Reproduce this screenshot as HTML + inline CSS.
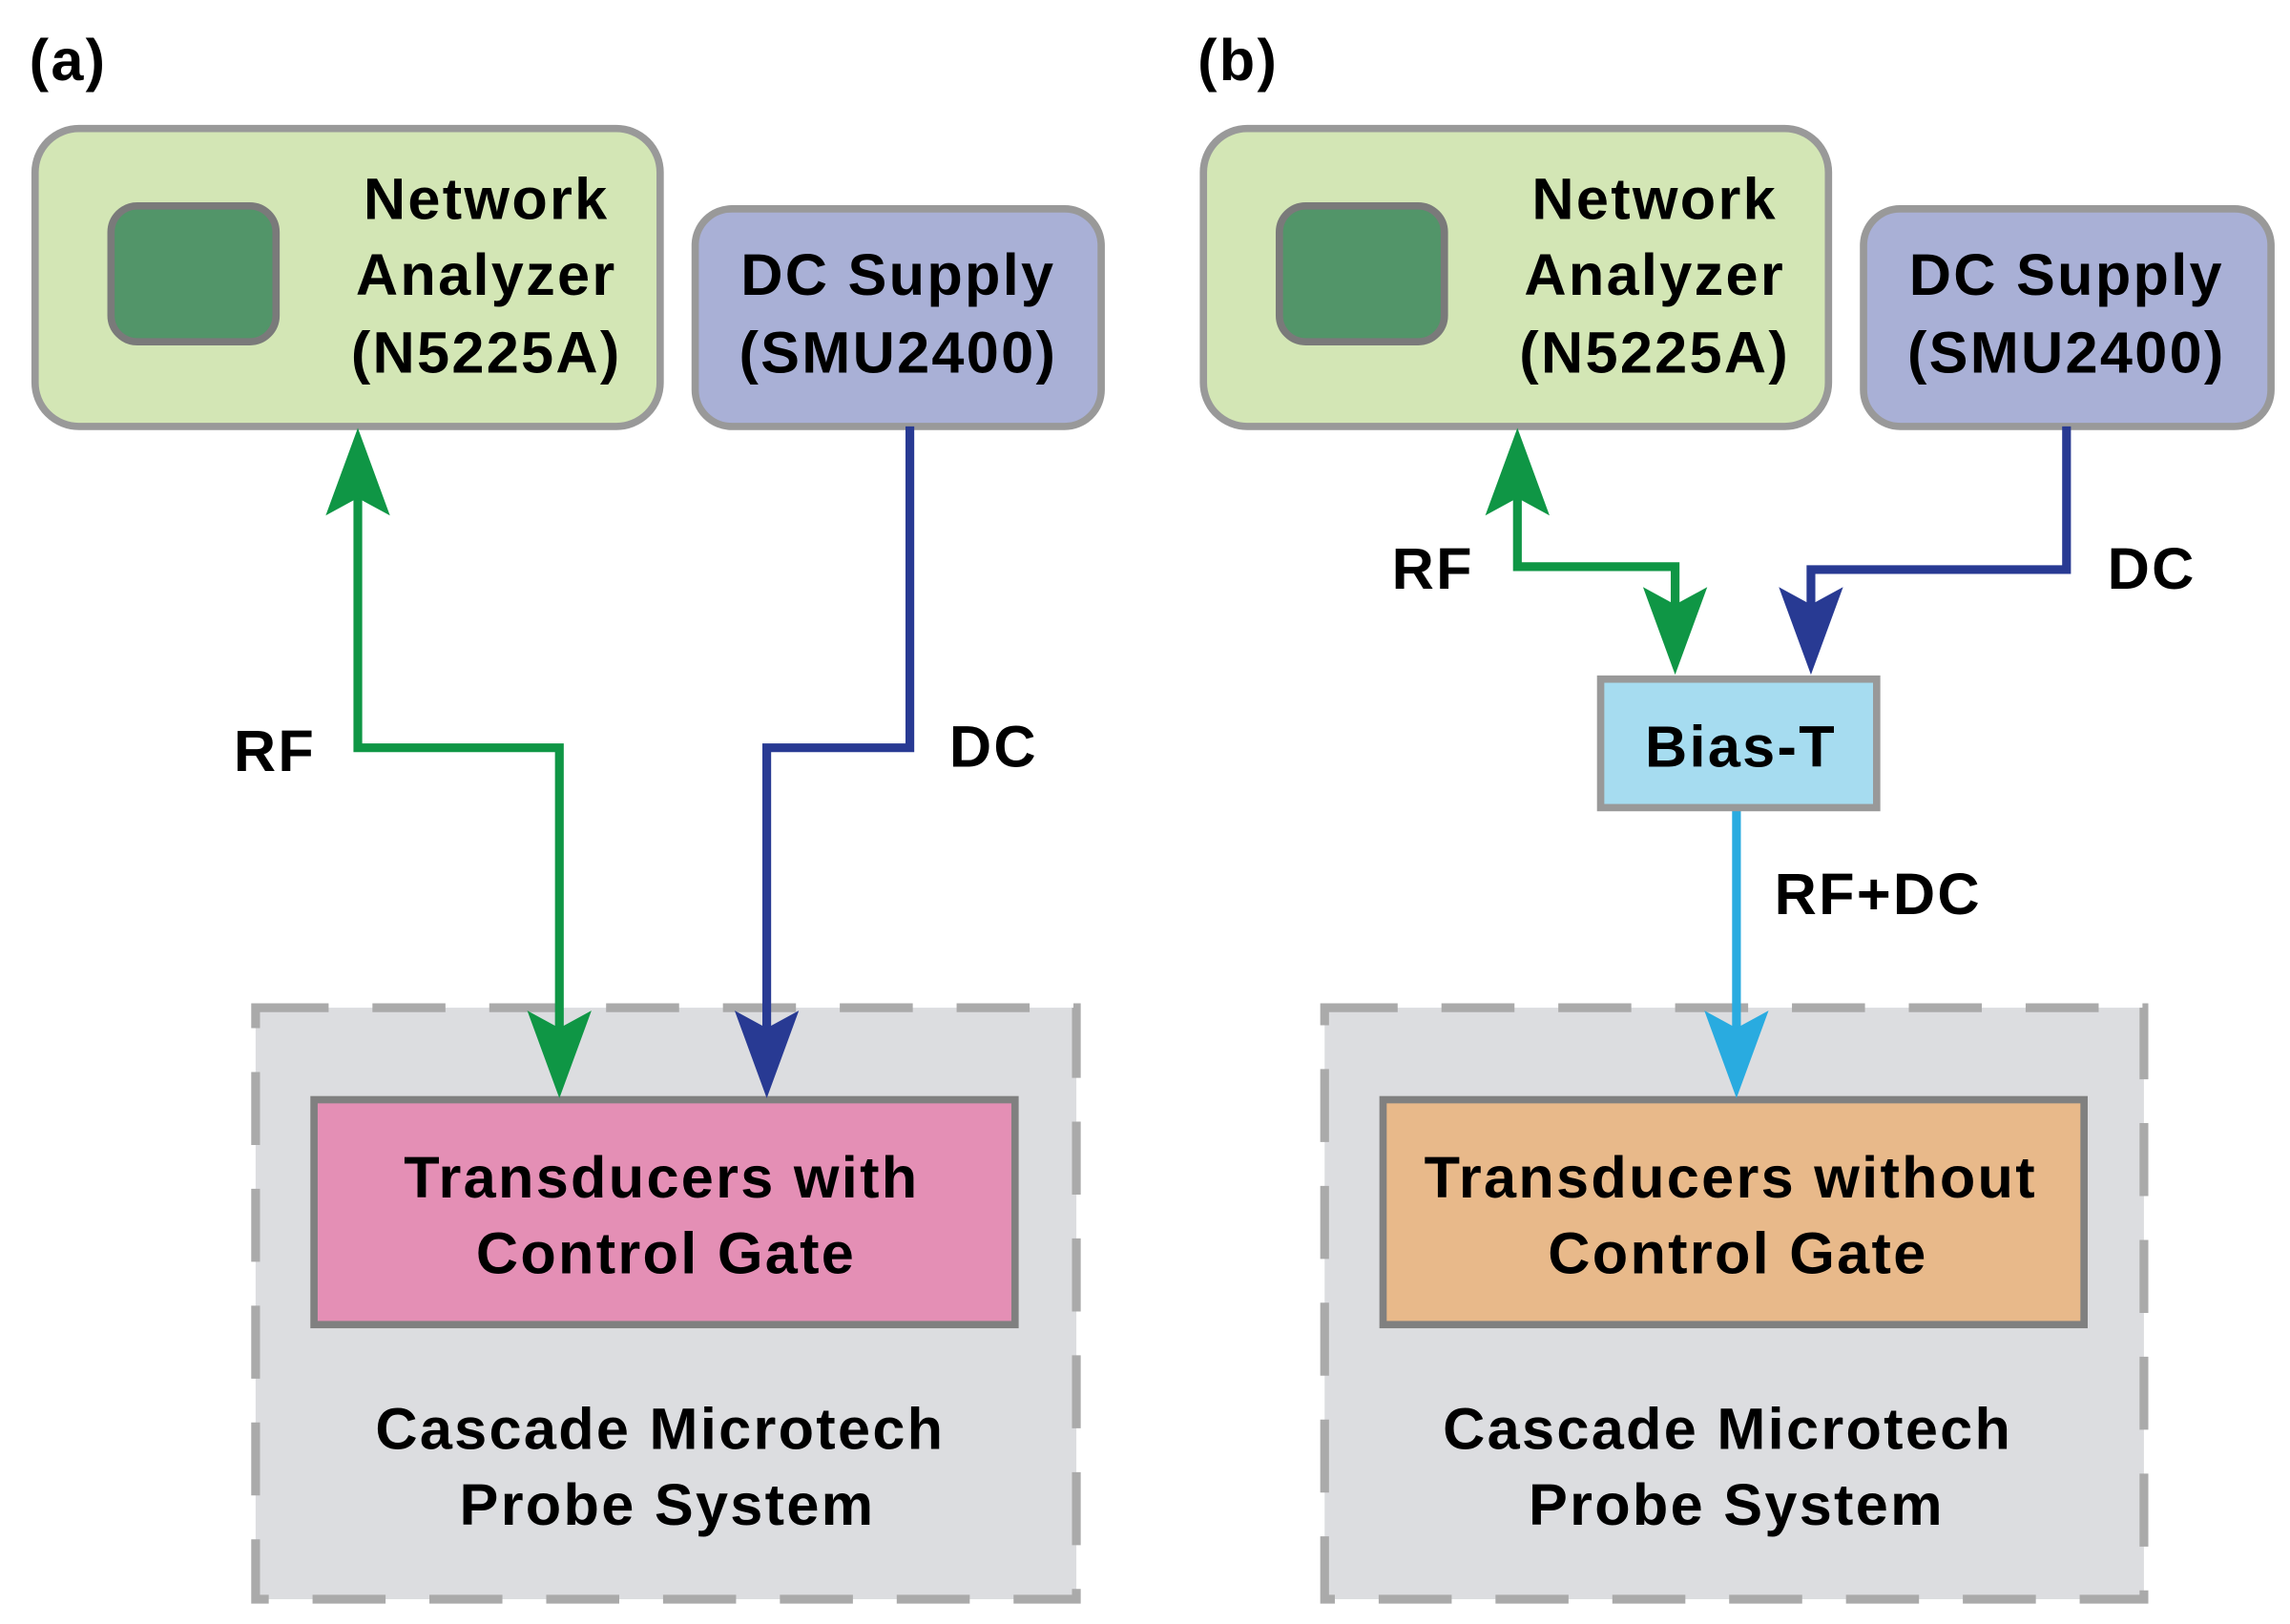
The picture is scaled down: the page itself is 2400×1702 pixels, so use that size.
<!DOCTYPE html>
<html><head><meta charset="utf-8"><style>
html,body{margin:0;padding:0;background:#fff;}
svg{display:block;}
text{font-family:"Liberation Sans",Arial,sans-serif;font-weight:bold;fill:#000;letter-spacing:1.5px;}
</style></head><body>
<svg width="2400" height="1702" viewBox="0 0 1568 1112" xmlns="http://www.w3.org/2000/svg">
<defs>
<path id="ah" d="M0,0 L-22,-60 L0,-48 L22,-60 Z"/>
</defs>
<!-- (a) -->
<text x="20" y="55" font-size="40">(a)</text>
<rect x="24" y="88" width="428" height="204" rx="30" fill="#d3e6b5" stroke="#999" stroke-width="5"/>
<rect x="76" y="141" width="113" height="93" rx="18" fill="#529569" stroke="#7a7a7a" stroke-width="5"/>
<text x="333" y="150" font-size="40" text-anchor="middle">Network</text>
<text x="333" y="202" font-size="40" text-anchor="middle">Analyzer</text>
<text x="333" y="255" font-size="40" text-anchor="middle">(N5225A)</text>
<rect x="476" y="143" width="278" height="149" rx="25" fill="#a9b0d6" stroke="#999" stroke-width="5"/>
<text x="615" y="202" font-size="40" text-anchor="middle">DC Supply</text>
<text x="615" y="255" font-size="40" text-anchor="middle">(SMU2400)</text>

<rect x="175" y="690" width="562" height="405" fill="#dcdde0" stroke="#aaa" stroke-width="6" stroke-dasharray="50 30"/>
<rect x="215" y="753" width="480" height="154" fill="#e48fb5" stroke="#808080" stroke-width="5"/>
<text x="453" y="820" font-size="40" text-anchor="middle">Transducers with</text>
<text x="456" y="872" font-size="40" text-anchor="middle">Control Gate</text>
<text x="452" y="992" font-size="40" text-anchor="middle">Cascade Microtech</text>
<text x="457" y="1044" font-size="40" text-anchor="middle">Probe System</text>

<polyline points="245,330 245,512 383,512 383,710" fill="none" stroke="#0f9645" stroke-width="6"/>
<use href="#ah" transform="translate(245,293) rotate(180)" fill="#0f9645"/>
<use href="#ah" transform="translate(383,752)" fill="#0f9645"/>
<polyline points="623,292 623,512 525,512 525,710" fill="none" stroke="#283a93" stroke-width="6"/>
<use href="#ah" transform="translate(525,752)" fill="#283a93"/>
<text x="160" y="528" font-size="40">RF</text>
<text x="650" y="525" font-size="40">DC</text>

<!-- (b) -->
<text x="820" y="55" font-size="40">(b)</text>
<rect x="824" y="88" width="428" height="204" rx="30" fill="#d3e6b5" stroke="#999" stroke-width="5"/>
<rect x="876" y="141" width="113" height="93" rx="18" fill="#529569" stroke="#7a7a7a" stroke-width="5"/>
<text x="1133" y="150" font-size="40" text-anchor="middle">Network</text>
<text x="1133" y="202" font-size="40" text-anchor="middle">Analyzer</text>
<text x="1133" y="255" font-size="40" text-anchor="middle">(N5225A)</text>
<rect x="1276" y="143" width="279" height="149" rx="25" fill="#a9b0d6" stroke="#999" stroke-width="5"/>
<text x="1415" y="202" font-size="40" text-anchor="middle">DC Supply</text>
<text x="1415" y="255" font-size="40" text-anchor="middle">(SMU2400)</text>

<polyline points="1039,330 1039,388 1147,388 1147,425" fill="none" stroke="#0f9645" stroke-width="6"/>
<use href="#ah" transform="translate(1039,293) rotate(180)" fill="#0f9645"/>
<use href="#ah" transform="translate(1147,462)" fill="#0f9645"/>
<polyline points="1415,292 1415,390 1240,390 1240,425" fill="none" stroke="#283a93" stroke-width="6"/>
<use href="#ah" transform="translate(1240,462)" fill="#283a93"/>
<text x="953" y="403" font-size="40">RF</text>
<text x="1443" y="403" font-size="40">DC</text>

<rect x="907" y="690" width="561" height="405" fill="#dcdde0" stroke="#aaa" stroke-width="6" stroke-dasharray="50 30"/>
<rect x="947" y="753" width="480" height="154" fill="#e8b98a" stroke="#808080" stroke-width="5"/>
<text x="1185" y="820" font-size="40" text-anchor="middle">Transducers without</text>
<text x="1190" y="872" font-size="40" text-anchor="middle">Control Gate</text>
<text x="1183" y="992" font-size="40" text-anchor="middle">Cascade Microtech</text>
<text x="1189" y="1044" font-size="40" text-anchor="middle">Probe System</text>

<line x1="1189" y1="555" x2="1189" y2="715" stroke="#29abe0" stroke-width="6"/>
<use href="#ah" transform="translate(1189,752)" fill="#29abe0"/>
<rect x="1096" y="465" width="189" height="88" fill="#a6dcf0" stroke="#999" stroke-width="5"/>
<text x="1192" y="525" font-size="40" text-anchor="middle">Bias-T</text>
<text x="1215" y="626" font-size="40">RF+DC</text>
</svg>
</body></html>
